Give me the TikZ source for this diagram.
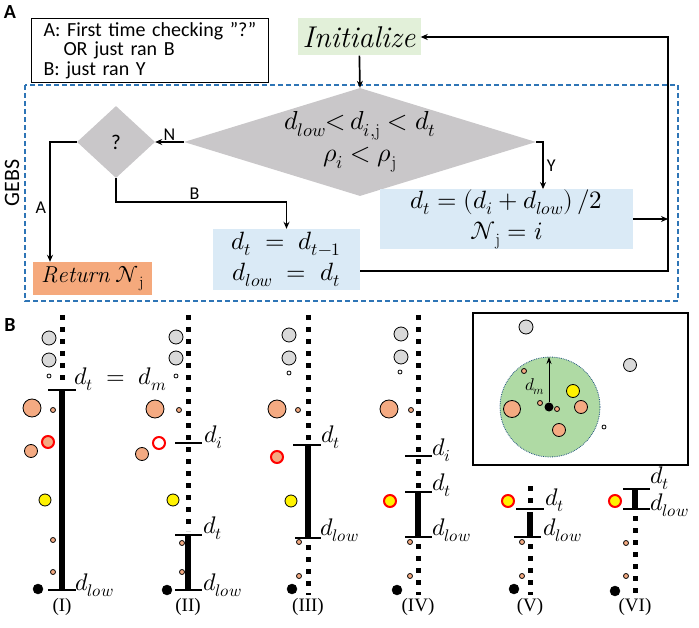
\documentclass[tikz,border=0pt]{standalone}
\usepackage{amsmath}
\usepackage{unicode-math}
\setsansfont{Carlito}
\setmathfont{Latin Modern Math}
\newfontfamily\capfont{Liberation Serif}
\usepackage{xcolor}
\usetikzlibrary{shapes.geometric,arrows.meta}

\definecolor{cgreen}{HTML}{E2F0D9}
\definecolor{cblue}{HTML}{DAEAF6}
\definecolor{corange}{HTML}{F5A97C}
\definecolor{cdiam}{HTML}{C9C7C9}
\definecolor{cdash}{HTML}{2E75B6}
\definecolor{cpt}{HTML}{F4AA82}
\definecolor{cgrey}{HTML}{D9D9D9}
\definecolor{cring}{HTML}{AFDAA4}

\begin{document}
\begin{tikzpicture}[x=1pt,y=-1pt,
	lbl/.style={font=\sffamily\fontsize{18}{20}\selectfont, inner sep=1pt},
	arr/.style={line width=1.7pt, -{Stealth[length=7pt,width=6pt]}},
	flowbox/.style={inner sep=0pt, align=center, font=\fontsize{25}{26}\selectfont},
	dotline/.style={line width=5pt, dash pattern=on 5pt off 7pt},
	bar/.style={line width=6pt},
	tick/.style={line width=2pt},
	dlabel/.style={anchor=west, inner sep=0pt, font=\fontsize{24}{26}\selectfont},
	caption/.style={font=\capfont\fontsize{19}{22}\selectfont},
	ptgrey/.style={draw=black, fill=cgrey, line width=0.8pt},
	ptwhite/.style={draw=black, fill=white, line width=0.8pt},
	ptorange/.style={draw=black, fill=cpt, line width=0.8pt},
	ptred/.style={draw=red, fill=cpt, line width=2pt},
	ptring/.style={draw=red, fill=white, line width=2pt},
	ptyellow/.style={draw=black, fill=yellow, line width=0.8pt},
	ptyred/.style={draw=red, fill=yellow, line width=2pt},
	ptblack/.style={fill=black},
]
\useasboundingbox (0,0) rectangle (699,628);

% panel A
\node[font=\sffamily\bfseries\fontsize{20}{20}\selectfont] (letA) at (10,12) {A};
\node[draw, line width=1pt, minimum width=237pt, minimum height=64pt, anchor=north west,
	text width=213pt, align=left, inner xsep=12pt,
	font=\sffamily\fontsize{20}{19.5}\selectfont] (note) at (31,18)
	{A: First time checking "?"\\\hspace*{20pt}OR just ran B\\B: just ran Y};

\draw[cdash, line width=1.2pt, dash pattern=on 5pt off 3pt] (25,85) rectangle (678,301);
\node[lbl, rotate=90, font=\sffamily\fontsize{22}{22}\selectfont] (gebs) at (12,183) {GEBS};

\node[flowbox, fill=cgreen, minimum width=123pt, minimum height=37pt, font=\fontsize{30}{30}\selectfont] (init) at (359,37) {$\mathit{Initialize}$};
\node[diamond, fill=cdiam, inner sep=0pt, minimum width=352pt, minimum height=108pt] (cond) at (360,142) {};
\node[flowbox, font=\fontsize{26}{27}\selectfont] (condtxt) at (cond.center)
	{$d_{low}{<}\,d_{i,\mathrm{j}} < d_t$\\[5pt]$\rho_i < \rho_{\mathrm{j}}$};
\node[flowbox, diamond, fill=cdiam, minimum width=78pt, minimum height=72pt, font=\sffamily\fontsize{21}{22}\selectfont] (ques) at (116,142) {?};
\node[flowbox, fill=corange, minimum width=119pt, minimum height=33pt, font=\fontsize{23}{24}\selectfont] (ret) at (92.5,278.5) {$\mathit{Return}\;\mathcal{N}_{\mathrm{j}}$};
\node[flowbox, fill=cblue, minimum width=147pt, minimum height=61pt] (upd) at (286.5,259.5)
	{$d_t\;=\;d_{t-1}$\\[5pt]$d_{low}\;=\;d_t$};
\node[flowbox, fill=cblue, minimum width=253pt, minimum height=57pt] (setb) at (506.5,219)
	{$d_t = \left(d_i + d_{low}\right)/2$\\[5pt]$\mathcal{N}_{\mathrm{j}} = i$};

\coordinate (aturn) at (50,142);
\coordinate (bturn) at (116,202);
\coordinate (yturn) at (543,142);
\coordinate (loopb) at (668,271);
\coordinate (loopt) at (668,37);

\draw[arr] (init) -- (cond.north);
\draw[arr] (cond.west) -- node[lbl, above=0pt] (labN) {N} (ques.east);
\draw[arr] (ques.west) -- (aturn) -- node[lbl, left=2pt, pos=0.55] (labA) {A} (aturn |- ret.north);
\draw[arr] (ques.south) -- (bturn) -| node[lbl, above=1pt, pos=0.23] (labB) {B} (upd.north);
\draw[arr] (cond.east) -- (yturn) -- node[lbl, right=2pt, pos=0.5] (labY) {Y} (yturn |- setb.north);
\draw[arr] (setb.east) -- (setb.east -| loopb);
\draw[arr] (upd.east |- loopb) -- (loopb) -- (loopt) -- (init.east);

% panel B
\node[font=\sffamily\bfseries\fontsize{20}{20}\selectfont] (letB) at (10,325) {B};

\begin{scope}[xshift=62pt]
\draw[dotline] (0,315)--(0,386);
\draw[bar] (0,390)--(0,590);
\draw[tick] (-14,390)--(14,390);
\draw[tick] (-14,590)--(14,590);
\node[dlabel] (dtI) at (12,379) {$d_t\;=\;d_m$};
\node[dlabel] (dlowI) at (13,585) {$d_{low}$};
\draw[ptgrey] (-13,338) circle (7pt);
\draw[ptgrey] (-13,360) circle (7pt);
\draw[ptwhite] (-13,376) circle (2pt);
\draw[ptorange] (-30,408) circle (9pt);
\draw[ptorange] (-9,410) circle (2.5pt);
\draw[ptred] (-14,442) circle (6pt);
\draw[ptorange] (-31,451) circle (6.5pt);
\draw[ptyellow] (-17,500) circle (6pt);
\draw[ptorange] (-9,540) circle (2.5pt);
\draw[ptorange] (-9,572) circle (2.5pt);
\draw[ptblack] (-24,589) circle (5pt);
\node[caption] (capI) at (0,607) {(I)};
\end{scope}

\begin{scope}[xshift=188pt]
\draw[dotline] (0,315)--(0,531);
\draw[bar] (0,535)--(0,590);
\draw[tick] (-13,443)--(14,443);
\draw[tick] (-13,535)--(14,535);
\draw[tick] (-13,590)--(14,590);
\node[dlabel] (diII) at (16,437) {$d_i$};
\node[dlabel] (dtII) at (15,528) {$d_t$};
\node[dlabel] (dlowII) at (15,585) {$d_{low}$};
\draw[ptgrey] (-12,337) circle (7pt);
\draw[ptgrey] (-12,358) circle (7pt);
\draw[ptwhite] (-12,376) circle (2pt);
\draw[ptorange] (-33,409) circle (9pt);
\draw[ptorange] (-9,410) circle (2.5pt);
\draw[ptring] (-29,443) circle (6pt);
\draw[ptorange] (-46,454) circle (6.5pt);
\draw[ptyellow] (-15,500) circle (6pt);
\draw[ptorange] (-6,543) circle (2.5pt);
\draw[ptorange] (-6,572) circle (2.5pt);
\draw[ptblack] (-21,590) circle (5pt);
\node[caption] (capII) at (0,607) {(II)};
\end{scope}

\begin{scope}[xshift=308pt]
\draw[dotline] (0,315)--(0,441);
\draw[bar] (0,445)--(0,538);
\draw[dotline] (0,545)--(0,595);
\draw[tick] (-15,445)--(13,445);
\draw[tick] (-13,538)--(13,538);
\node[dlabel] (dtIII) at (13,437) {$d_t$};
\node[dlabel] (dlowIII) at (12,530) {$d_{low}$};
\draw[ptgrey] (-19,335) circle (7pt);
\draw[ptgrey] (-19,358) circle (7pt);
\draw[ptwhite] (-19,373) circle (2pt);
\draw[ptorange] (-31,409) circle (9pt);
\draw[ptorange] (-10,410) circle (2.5pt);
\draw[ptred] (-31,457) circle (6pt);
\draw[ptyellow] (-17,501) circle (6pt);
\draw[ptorange] (-9,542) circle (2.5pt);
\draw[ptorange] (-9,576) circle (2.5pt);
\draw[ptblack] (-16,589) circle (5pt);
\node[caption] (capIII) at (0,607) {(III)};
\end{scope}

\begin{scope}[xshift=418pt]
\draw[dotline] (0,315)--(0,488);
\draw[bar] (0,492)--(0,537);
\draw[dotline] (0,544)--(0,595);
\draw[tick] (-13,456)--(14,456);
\draw[tick] (-13,492)--(14,492);
\draw[tick] (-13,537)--(14,537);
\node[dlabel] (diIV) at (14,450) {$d_i$};
\node[dlabel] (dtIV) at (14,485) {$d_t$};
\node[dlabel] (dlowIV) at (14,530) {$d_{low}$};
\draw[ptgrey] (-17,334) circle (7pt);
\draw[ptgrey] (-17,357) circle (7pt);
\draw[ptwhite] (-18,372) circle (2pt);
\draw[ptorange] (-29,409) circle (9pt);
\draw[ptorange] (-7,410) circle (2.5pt);
\draw[ptyred] (-28,501) circle (6pt);
\draw[ptorange] (-8,542) circle (2.5pt);
\draw[ptorange] (-8,576) circle (2.5pt);
\draw[ptblack] (-21,590) circle (5pt);
\node[caption] (capIV) at (0,607) {(IV)};
\end{scope}

\begin{scope}[xshift=530pt]
\draw[dotline] (0,486)--(0,506);
\draw[bar] (0,512)--(0,537);
\draw[dotline] (0,544)--(0,595);
\draw[tick] (-14,509)--(14,509);
\draw[tick] (-16,537)--(11,537);
\node[dlabel] (dtV) at (15,500) {$d_t$};
\node[dlabel] (dlowV) at (13,530) {$d_{low}$};
\draw[ptyred] (-22,501) circle (6pt);
\draw[ptorange] (-8,542) circle (2.5pt);
\draw[ptorange] (-8,576) circle (2.5pt);
\draw[ptblack] (-16,589) circle (5pt);
\node[caption] (capV) at (0,607) {(V)};
\end{scope}

\begin{scope}[xshift=635pt]
\draw[bar] (0,489)--(0,509);
\draw[dotline] (0,516)--(0,595);
\draw[tick] (-12,489)--(15,489);
\draw[tick] (-12,509)--(15,509);
\node[dlabel] (dtVI) at (15,478) {$d_t$};
\node[dlabel] (dlowVI) at (15,505) {$d_{low}$};
\draw[ptyred] (-20,501) circle (6pt);
\draw[ptorange] (-9,543) circle (2.5pt);
\draw[ptorange] (-9,576) circle (2.5pt);
\draw[ptblack] (-20,591) circle (5pt);
\node[caption] (capVI) at (0,607) {(VI)};
\end{scope}

% inset
\draw[line width=1.2pt] (473,313) rectangle (688,465);
\draw[fill=cring, draw=cdash!70!black, densely dotted, line width=0.8pt] (550,407) circle (50pt);
\draw[ptgrey] (526,327) circle (7pt);
\draw[ptgrey] (630,365) circle (6.5pt);
\draw[ptorange] (524,371) circle (2.5pt);
\draw[ptyellow] (573,391) circle (6.5pt);
\draw[ptorange] (512,409) circle (8.5pt);
\draw[ptorange] (540,403) circle (2.5pt);
\draw[ptorange] (557,409) circle (2.5pt);
\draw[ptorange] (581,407) circle (6.5pt);
\draw[ptorange] (559,430) circle (6.5pt);
\draw[ptwhite] (604,427) circle (2pt);
\node[circle, fill=black, inner sep=0pt, minimum size=9pt] (ctr) at (549,407) {};
\coordinate (rim) at (549,357);
\draw[line width=0.8pt, -{Stealth[length=7pt,width=5pt]}] (ctr) -- (rim);
\node[inner sep=0pt, font=\fontsize{17}{18}\selectfont] (dm) at (535,387) {$d_m$};

\end{tikzpicture}
\end{document}
